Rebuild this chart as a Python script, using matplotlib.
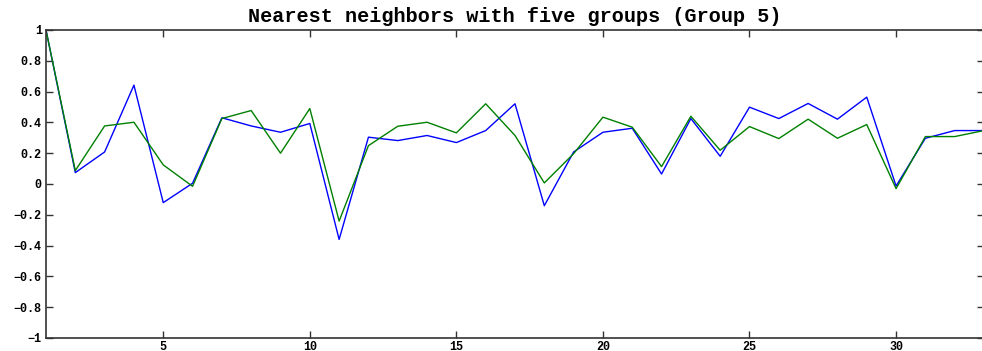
import numpy as np
import matplotlib
matplotlib.use("Agg")
import matplotlib.pyplot as plt

# neighbor index and the two correlation series
idx = np.arange(1, 34)
blue_vals = [1.0, 0.074, 0.208, 0.642, -0.121, 0.005, 0.43, 0.377, 0.336, 0.393,
             -0.36, 0.304, 0.282, 0.315, 0.269, 0.347, 0.521, -0.141, 0.208, 0.336,
             0.362, 0.065, 0.425, 0.18, 0.499, 0.425, 0.523, 0.421, 0.564, -0.013,
             0.297, 0.347, 0.347]
green_vals = [1.0, 0.087, 0.377, 0.401, 0.124, -0.015, 0.425, 0.477, 0.2, 0.49,
              -0.241, 0.249, 0.375, 0.401, 0.332, 0.521, 0.315, 0.007, 0.197, 0.434,
              0.369, 0.113, 0.44, 0.219, 0.373, 0.295, 0.421, 0.297, 0.386, -0.03,
              0.308, 0.308, 0.347]
xticks = [5, 10, 15, 20, 25, 30]
yticks = [-1, -0.8, -0.6, -0.4, -0.2, 0, 0.2, 0.4, 0.6, 0.8, 1]
ytick_labels = ["\u22121", "\u22120.8", "\u22120.6", "\u22120.4", "\u22120.2", "0",
                "0.2", "0.4", "0.6", "0.8", "1"]

plt.rcParams['font.family'] = ['Liberation Mono', 'DejaVu Sans Mono']
plt.rcParams['font.weight'] = 'bold'

fig = plt.figure(figsize=(9.82, 3.51), dpi=100)
ax = fig.add_axes([46 / 982, 13 / 351, 938 / 982, 308 / 351])

ax.plot(idx, blue_vals, color='#0000ff', lw=1)
ax.plot(idx, green_vals, color='#008000', lw=1)

ax.set_xlim(1, 33)
ax.set_ylim(-1, 1)
ax.set_xticks(xticks)
ax.set_yticks(yticks)
ax.set_yticklabels(ytick_labels)
ax.tick_params(direction='in', length=5, width=1, color='#333333',
               top=True, right=True, labelsize=8.5, pad=3)
ax.tick_params(axis='x', pad=2)
for lab in ax.get_xticklabels() + ax.get_yticklabels():
    lab.set_fontweight('bold')
for s in ax.spines.values():
    s.set_color('#333333')
    s.set_linewidth(1.2)

ax.set_title("Nearest neighbors with five groups (Group 5)",
             fontsize=14.5, fontweight='bold', pad=6)

fig.savefig("out.png", dpi=100)
